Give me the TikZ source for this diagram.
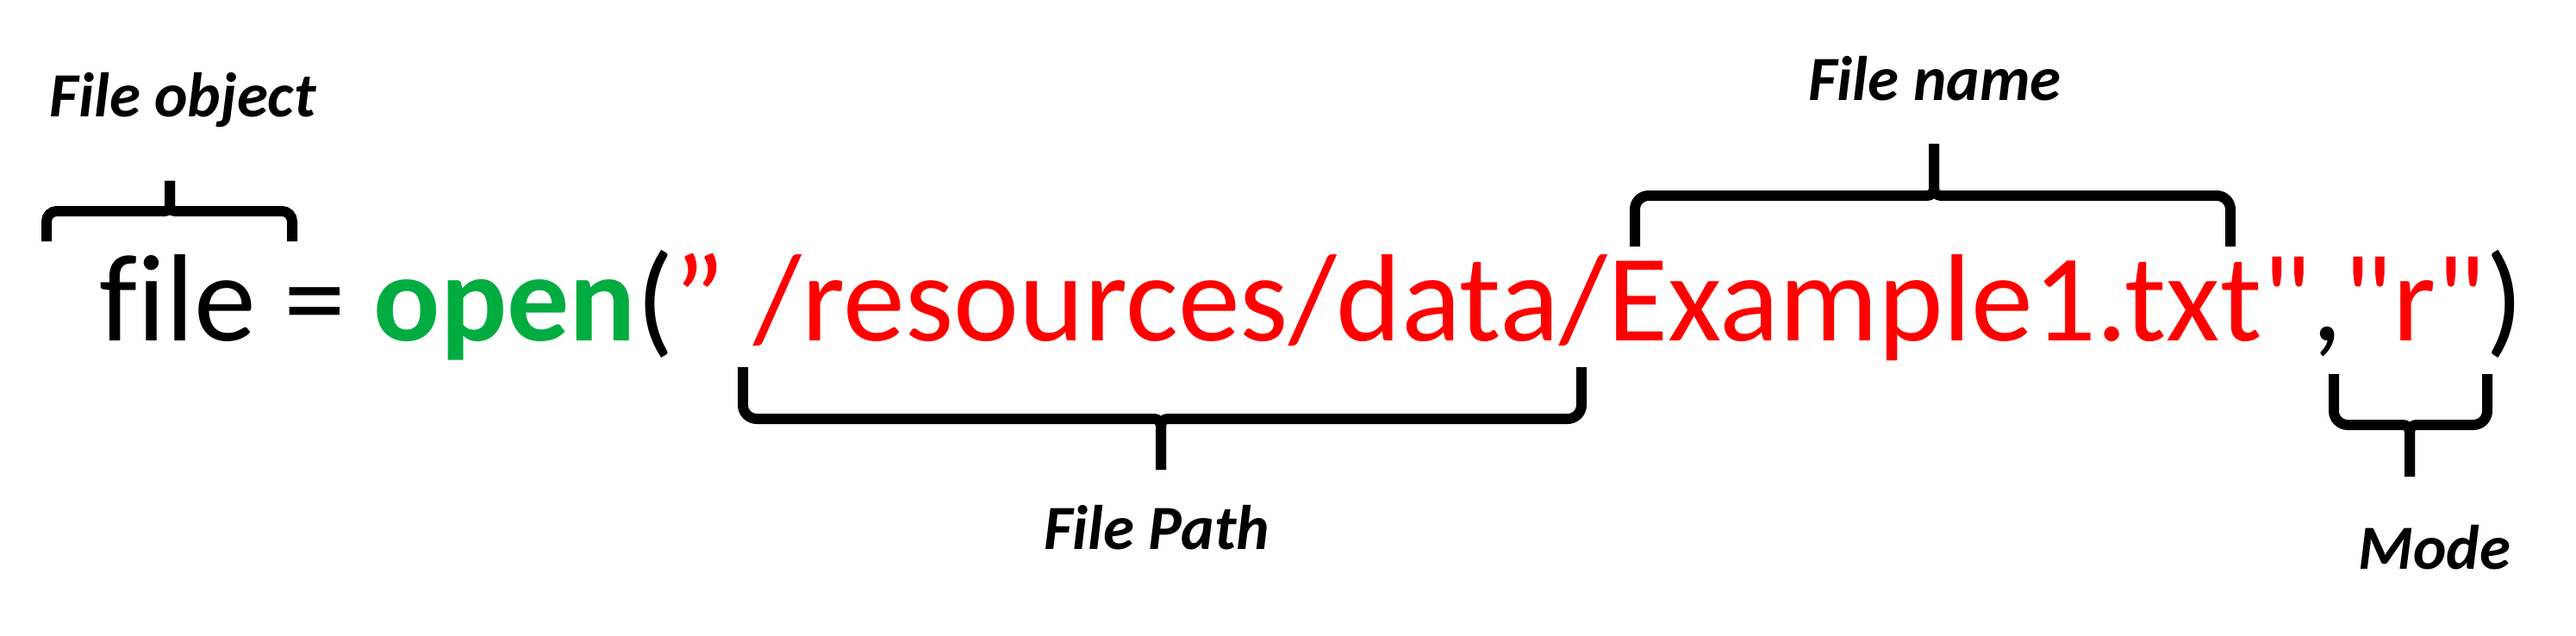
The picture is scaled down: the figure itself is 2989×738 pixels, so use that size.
\documentclass[tikz,border=0pt]{standalone}
\usepackage{fontspec}
\setmainfont{Carlito}
\newfontfamily\codefont[Ligatures={NoCommon}]{Carlito}
\definecolor{codegreen}{RGB}{0,172,64}
\definecolor{codered}{RGB}{255,0,0}
\tikzset{
  bracepath/.style={draw=black, line width=12pt, line cap=butt},
  lbl/.style={font=\fontsize{73}{80}\selectfont\bfseries\itshape, inner sep=0pt, anchor=base},
  codeline/.style={font=\fontsize{144}{160}\selectfont\codefont, inner sep=0pt, anchor=base west}
}
\begin{document}
\begin{tikzpicture}[x=1pt,y=-1pt]
\useasboundingbox[fill=white] (0,0) rectangle (2989,738);
% code line
\node[codeline] (code) at (115,395) {file = {\color{codegreen}\bfseries open}(\textcolor{codered}{” /resources/data/Example1.txt"},\textcolor{codered}{"r"})};
% labels
\node[lbl] (fobj) at (212,136) {File object};
\node[lbl] (fname) at (2245,117) {File name};
\node[lbl] (fpath) at (1342,637) {File Path};
\node[lbl] (fmode) at (2825,660) {Mode};
% brace over "file" (tip up)
\draw[bracepath] (54,280) [rounded corners=12pt] -- (54,245) [rounded corners=6pt] -- (197,245) [sharp corners] -- (197,210);
\draw[bracepath] (339,280) [rounded corners=12pt] -- (339,245) [rounded corners=6pt] -- (197,245) [sharp corners] -- (197,210);
% brace over file name (tip up)
\draw[bracepath] (1897,286) [rounded corners=16pt] -- (1897,227) [rounded corners=8pt] -- (2244,227) [sharp corners] -- (2244,167);
\draw[bracepath] (2588,286) [rounded corners=16pt] -- (2588,227) [rounded corners=8pt] -- (2244,227) [sharp corners] -- (2244,167);
% brace under path (tip down)
\draw[bracepath] (862,426) [rounded corners=16pt] -- (862,486) [rounded corners=8pt] -- (1347,486) [sharp corners] -- (1347,545);
\draw[bracepath] (1835,426) [rounded corners=16pt] -- (1835,486) [rounded corners=8pt] -- (1347,486) [sharp corners] -- (1347,545);
% brace under mode (tip down)
\draw[bracepath] (2708,434) [rounded corners=16pt] -- (2708,493) [rounded corners=8pt] -- (2796,493) [sharp corners] -- (2796,553);
\draw[bracepath] (2886,434) [rounded corners=16pt] -- (2886,493) [rounded corners=8pt] -- (2796,493) [sharp corners] -- (2796,553);
\end{tikzpicture}
\end{document}
